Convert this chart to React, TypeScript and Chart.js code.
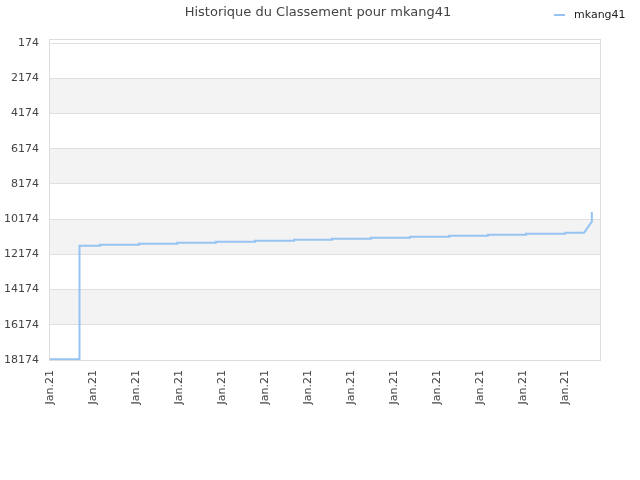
import Chart, { ChartConfiguration, Plugin } from 'chart.js/auto';
import React, { useEffect, useRef } from 'react';

// données
const playerName = 'mkang41';
const chartTitle = 'Historique du Classement pour mkang41';
const tickLabels = ['Jan.21', 'Jan.21', 'Jan.21', 'Jan.21', 'Jan.21', 'Jan.21', 'Jan.21', 'Jan.21', 'Jan.21', 'Jan.21', 'Jan.21', 'Jan.21', 'Jan.21'];
const rankTicks = [174, 2174, 4174, 6174, 8174, 10174, 12174, 14174, 16174, 18174];
const days = [
  0, 6.75, 6.75, 6.98,
  11.6, 11.6, 20.7, 20.7, 29.6, 29.6, 38.6, 38.6, 47.7, 47.7,
  56.8, 56.8, 65.6, 65.6, 74.7, 74.7, 83.8, 83.8, 92.9, 92.9,
  101.9, 101.9, 110.8, 110.8, 119.9, 119.9, 124.3, 126.1, 126.1,
];
const ranks = [
  18130, 18130, 12040, 11682,
  11682, 11625, 11625, 11568, 11568, 11512, 11512, 11455, 11455, 11398,
  11398, 11341, 11341, 11284, 11284, 11227, 11227, 11171, 11171, 11114,
  11114, 11057, 11057, 11000, 11000, 10943, 10943, 10319, 9768,
];
const rankMin = 0;
const rankMax = 18174;
const dayMax = 128;

const lineColor = '#96c3f2';
const textColor = '#444444';

// bandes grises + cadre + titre + légende
const decorPlugin: Plugin = {
  id: 'decor',
  beforeDraw(chart) {
    const { ctx, chartArea, scales } = chart;
    const y = scales.y;
    ctx.save();
    ctx.fillStyle = '#f3f3f3';
    for (let i = 1; i < rankTicks.length - 1; i += 2) {
      const a = y.getPixelForValue(rankTicks[i]);
      const b = y.getPixelForValue(rankTicks[i + 1]);
      ctx.fillRect(chartArea.left, a, chartArea.right - chartArea.left, b - a);
    }
    ctx.restore();
  },
  afterDraw(chart) {
    const { ctx, chartArea } = chart;
    ctx.save();
    ctx.strokeStyle = '#dddddd';
    ctx.lineWidth = 1;
    ctx.strokeRect(chartArea.left - 0.5, chartArea.top - 0.5, chartArea.right - chartArea.left + 1, chartArea.bottom - chartArea.top + 1);

    ctx.fillStyle = textColor;
    ctx.font = '13px "DejaVu Sans"';
    ctx.textAlign = 'center';
    ctx.textBaseline = 'alphabetic';
    ctx.fillText(chartTitle, 318, 16);

    ctx.strokeStyle = lineColor;
    ctx.lineWidth = 2;
    ctx.beginPath();
    ctx.moveTo(554, 15);
    ctx.lineTo(565, 15);
    ctx.stroke();
    ctx.fillStyle = '#222222';
    ctx.font = '11px "DejaVu Sans"';
    ctx.textAlign = 'left';
    ctx.fillText(playerName, 574, 18);
    ctx.restore();
  },
};

const App: React.FC = () => {
  const chartRef = useRef<HTMLCanvasElement>(null);
  const chartInstanceRef = useRef<Chart | null>(null);

  useEffect(() => {
    if (!chartRef.current) return;
    const ctx = chartRef.current.getContext('2d');
    if (!ctx) return;

    if (chartInstanceRef.current) {
      chartInstanceRef.current.destroy();
    }

    const config: ChartConfiguration = {
      type: 'line',
      data: {
        datasets: [
          {
            label: playerName,
            data: days.map((d, i) => ({ x: d, y: ranks[i] })),
            borderColor: lineColor,
            borderWidth: 2,
            pointRadius: 0,
            tension: 0,
            fill: false,
          },
        ],
      },
      options: {
        responsive: true,
        maintainAspectRatio: false,
        animation: false,
        layout: {
          padding: { top: 40, right: 40, bottom: 0, left: 0 },
        },
        scales: {
          x: {
            type: 'linear',
            min: 0,
            max: dayMax,
            afterFit: (scale: any) => {
              scale.height = 120;
            },
            grid: { display: false, drawTicks: false },
            border: { display: false },
            ticks: {
              stepSize: 10,
              includeBounds: false,
              autoSkip: false,
              maxRotation: 90,
              minRotation: 90,
              padding: 10,
              color: textColor,
              font: { family: '"DejaVu Sans"', size: 11 },
              callback: (_v: any, i: number) => tickLabels[i] ?? '',
            },
          },
          y: {
            type: 'linear',
            reverse: true,
            min: rankMin,
            max: rankMax,
            afterFit: (scale: any) => {
              scale.width = 50;
            },
            afterBuildTicks: (scale: any) => {
              scale.ticks = rankTicks.map((v) => ({ value: v }));
            },
            grid: { color: '#e0e0e0', drawTicks: false },
            border: { display: false },
            ticks: {
              autoSkip: false,
              padding: 11,
              color: textColor,
              font: { family: '"DejaVu Sans"', size: 11 },
              callback: (v: any) => String(v),
            },
          },
        },
        plugins: {
          legend: { display: false },
          title: { display: false },
          tooltip: { enabled: false },
        },
      },
      plugins: [decorPlugin],
    };

    chartInstanceRef.current = new Chart(ctx, config);

    return () => {
      if (chartInstanceRef.current) {
        chartInstanceRef.current.destroy();
        chartInstanceRef.current = null;
      }
    };
  }, []);

  return (
    <div style={{ position: 'fixed', left: 0, top: 0, width: 640, height: 480, background: '#ffffff' }}>
      <canvas ref={chartRef}></canvas>
    </div>
  );
};

export default App;
